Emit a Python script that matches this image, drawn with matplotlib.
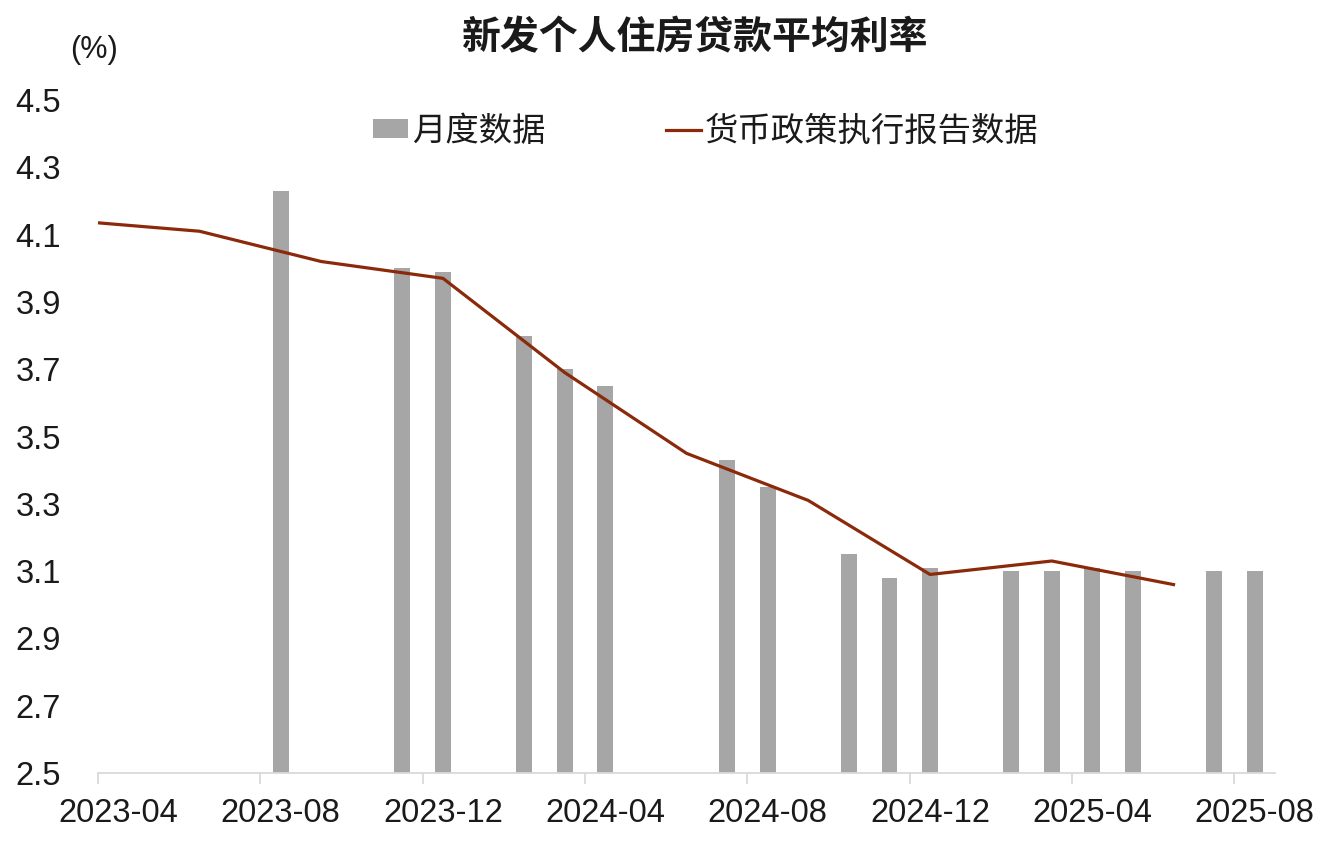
import matplotlib
matplotlib.use("Agg")
import matplotlib.pyplot as plt
import pandas as pd
import numpy as np

# ---- data ----
monthly_dates = ["2023-08", "2023-11", "2023-12", "2024-02", "2024-03", "2024-04",
                 "2024-07", "2024-08", "2024-10", "2024-11", "2024-12", "2025-02",
                 "2025-03", "2025-04", "2025-05", "2025-07", "2025-08"]
monthly_values = [4.23, 4.00, 3.99, 3.80, 3.70, 3.65,
                  3.43, 3.35, 3.15, 3.08, 3.11, 3.10,
                  3.10, 3.11, 3.10, 3.10, 3.10]

report_dates = ["2023-03", "2023-06", "2023-09", "2023-12", "2024-03", "2024-06",
                "2024-09", "2024-12", "2025-03", "2025-06"]
report_values = [4.14, 4.11, 4.02, 3.97, 3.69, 3.45, 3.31, 3.09, 3.13, 3.06]

tick_labels = ["2023-04", "2023-08", "2023-12", "2024-04",
               "2024-08", "2024-12", "2025-04", "2025-08"]
yticks = [2.5, 2.7, 2.9, 3.1, 3.3, 3.5, 3.7, 3.9, 4.1, 4.3, 4.5]

title = "新发个人住房贷款平均利率"
label_bar = "月度数据"
label_line = "货币政策执行报告数据"
unit = "(%)"

# ---- positions: months since 2023-04, mid-month ----
base = pd.Period("2023-04", freq="M")
def mpos(s, offset=0.5):
    return (pd.Period(s, freq="M") - base).n + offset

xb = [mpos(d) for d in monthly_dates]
xl = [mpos(d) for d in report_dates]
xt_marks = [mpos(d, 0.0) for d in tick_labels]
xt_labels = [mpos(d, 0.5) for d in tick_labels]

plt.rcParams['font.family'] = ['Liberation Sans', 'Noto Sans CJK SC']
cjk = ['Noto Sans CJK SC', 'DejaVu Sans']

fig = plt.figure(figsize=(13.26, 8.46), dpi=100)
ax = fig.add_axes([98/1326, 1-773/846, (1275-98)/1326, (773-100)/846])

bars = ax.bar(xb, monthly_values, width=0.39, color="#a6a6a6", bottom=0,
              label=label_bar, zorder=2)
line, = ax.plot(xl, report_values, color="#8B2A0B", lw=2.3, label=label_line,
                zorder=3, solid_joinstyle='round')

ax.set_xlim(0, 29)
ax.set_ylim(2.5, 4.5)
ax.set_yticks(yticks)
ax.set_yticklabels([f"{v:.1f}" for v in yticks], fontsize=23.5, color="#1a1a1a")
# tick marks at month boundaries, labels centred on the month
ax.set_xticks(xt_marks)
ax.set_xticklabels([""] * len(xt_marks))
ax.set_xticks(xt_labels, minor=True)
ax.set_xticklabels(tick_labels, minor=True, fontsize=23.5, color="#1a1a1a")

for s in ["top", "right", "left"]:
    ax.spines[s].set_visible(False)
ax.spines["bottom"].set_color("#d9d9d9")
ax.spines["bottom"].set_linewidth(1.3)
ax.tick_params(axis="y", length=0, pad=26.5)
ax.tick_params(axis="x", which="major", length=8, width=1.3, color="#d9d9d9", direction="out")
ax.tick_params(axis="x", which="minor", length=0, pad=18)

fig.text(695/1326, 1-38/846, title, ha="center", va="center", fontsize=28,
         fontweight="bold", family=cjk, color="#1a1a1a")
fig.text(94/1326, 1-50/846, unit, ha="center", va="center", fontsize=22, color="#1a1a1a")

leg = ax.legend(handles=[bars, line], labels=[label_bar, label_line],
                loc="center", bbox_to_anchor=(706/1326, 1-131/846),
                bbox_transform=fig.transFigure, ncol=2, frameon=False,
                prop={'family': cjk, 'size': 24}, handlelength=1.05,
                handleheight=0.5, handletextpad=0.12, columnspacing=3.6)
for t in leg.get_texts():
    t.set_color("#1a1a1a")

fig.savefig("out.png", dpi=100)
